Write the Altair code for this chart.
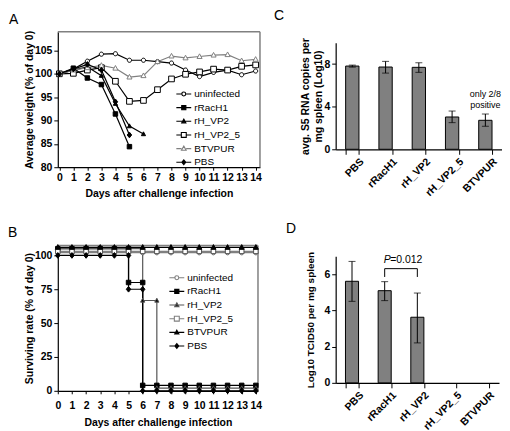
import altair as alt
import pandas as pd

FONT = "Liberation Sans"

series = ["uninfected", "rRacH1", "rH_VP2", "rH_VP2_5", "BTVPUR", "PBS"]
days = [0, 1, 2, 3, 4, 5, 6, 7, 8, 9, 10, 11, 12, 13, 14]

# ---------------- Panel A: average weight (% of day 0) ----------------
a_uninfected = [100, 101.0, 102.7, 104.2, 104.3, 102.9, 102.9, 102.6, 102.3, 100.8, 99.4, 100.3, 100.8, 99.8, 100.6]
a_rRacH1 = [100, 101.2, 99.1, 97.7, 91.4, 84.4]
a_rH_VP2 = [100, 100.8, 101.5, 99.6, 93.6, 88.8, 87.1]
a_rH_VP2_5 = [100, 100.1, 100.8, 101.3, 98.4, 94.1, 94.3, 96.6, 98.9, 99.9, 100.4, 101.0, 100.8, 101.6, 101.9]
a_BTVPUR = [100, 100.8, 101.3, 101.8, 101.2, 99.3, 99.6, 102.6, 103.8, 103.4, 103.7, 104.0, 104.1, 102.8, 103.1]
a_PBS = [100, 101.0, 102.0, 100.8, 94.0, 86.9]
a_yticks = [80, 85, 90, 95, 100, 105]

# ---------------- Panel B: surviving rate (step curves, offset as in original) ----------------
b_uninfected_days = [0, 1, 2, 3, 4, 5, 6, 7, 8, 9, 10, 11, 12, 13, 14]
b_uninfected = [102, 102, 102, 102, 102, 102, 102, 102, 102, 102, 102, 102, 102, 102, 102]
b_rRacH1_days = [0, 1, 2, 3, 4, 5, 5, 6, 6, 7, 8, 9, 10, 11, 12, 13, 14]
b_rRacH1 = [105, 105, 105, 105, 105, 105, 80, 80, 4, 4, 4, 4, 4, 4, 4, 4, 4]
b_rH_VP2_days = [0, 1, 2, 3, 4, 5, 6, 6, 7, 7, 8, 9, 10, 11, 12, 13, 14]
b_rH_VP2 = [105, 105, 105, 105, 105, 105, 105, 66.7, 66.7, 2, 2, 2, 2, 2, 2, 2, 2]
b_rH_VP2_5_days = [0, 1, 2, 3, 4, 5, 6, 7, 8, 9, 10, 11, 12, 13, 14]
b_rH_VP2_5 = [103, 103, 103, 103, 103, 103, 103, 103, 103, 103, 103, 103, 103, 103, 103]
b_BTVPUR_days = [0, 1, 2, 3, 4, 5, 6, 7, 8, 9, 10, 11, 12, 13, 14]
b_BTVPUR = [106, 106, 106, 106, 106, 106, 106, 106, 106, 106, 106, 106, 106, 106, 106]
b_PBS_days = [0, 1, 2, 3, 4, 5, 5, 6, 6, 7, 8, 9, 10, 11, 12, 13, 14]
b_PBS = [100, 100, 100, 100, 100, 100, 75, 75, 0, 0, 0, 0, 0, 0, 0, 0, 0]
b_yticks = [0, 25, 50, 75, 100]

# ---------------- Panel C / D: bars ----------------
groups = ["PBS", "rRacH1", "rH_VP2", "rH_VP2_5", "BTVPUR"]
c_mean = [7.81, 7.72, 7.69, 3.03, 2.72]
c_low = [7.71, 7.15, 7.22, 2.50, 2.16]
c_high = [7.90, 8.25, 8.12, 3.59, 3.31]
c_note_lines = ["only 2/8", "positive"]
c_note_y = [5.15, 4.18]
c_note_group = "BTVPUR"
c_yticks = [0, 2, 4, 6, 8, 10]

d_groups = ["PBS", "rRacH1", "rH_VP2"]
d_mean = [5.62, 5.10, 3.63]
d_low = [4.51, 4.55, 2.21]
d_high = [6.72, 5.60, 4.97]
d_bracket = ["rRacH1", "rH_VP2"]
d_bracket_top = 6.32
d_bracket_bottom = 5.86
d_p_y = 6.78
d_yticks = [0, 1, 2, 3, 4, 5, 6, 7]

# ---------------- styles ----------------
GRAY = "#808080"
P_CIRCLE = "M0.7,0A0.7,0.7,0,1,1,-0.7,0A0.7,0.7,0,1,1,0.7,0Z"
P_SQ = "M-0.75,-0.75H0.75V0.75H-0.75Z"
P_SQ_OPEN = "M-0.95,-0.95H0.95V0.95H-0.95Z"
P_TRI = "M0,-0.9L0.85,0.65H-0.85Z"
P_TRI_SMALL = "M0,-0.75L0.7,0.55H-0.7Z"
P_DIA = "M0,-0.95L0.75,0L0,0.95L-0.75,0Z"

L_LINE = "M-1.15,0H1.15"
L_CIRCLE = "M-1.15,0H-0.3M0.3,0H1.15M0.3,0A0.3,0.3,0,1,1,-0.3,0A0.3,0.3,0,1,1,0.3,0Z"
L_SQ = L_LINE + "M-0.32,-0.32H0.32V0.32H-0.32Z"
L_SQ_OPEN = "M-1.15,0H-0.38M0.38,0H1.15M-0.38,-0.38H0.38V0.38H-0.38Z"
L_TRI = L_LINE + "M0,-0.34L0.32,0.24H-0.32Z"
L_TRI_OPEN = "M-1.15,0H-0.36M0.36,0H1.15M0,-0.38L0.36,0.26H-0.36Z"
L_DIA = L_LINE + "M0,-0.36L0.3,0L0,0.36L-0.3,0Z"

A_STYLE = dict(
    line_colors=["black", "black", "black", "black", GRAY, "black"],
    mk_shapes=[P_CIRCLE, P_SQ, P_TRI_SMALL, P_SQ_OPEN, P_TRI, P_DIA],
    mk_fills=["white", "black", "black", "white", "white", "black"],
    mk_strokes=["black", "black", "black", "black", GRAY, "black"],
    lg_shapes=[L_CIRCLE, L_SQ, L_TRI, L_SQ_OPEN, L_TRI_OPEN, L_DIA],
    lg_fills=["white", "black", "black", "white", "white", "black"],
)
B_STYLE = dict(
    line_colors=[GRAY, "black", "#555555", GRAY, "black", "black"],
    mk_shapes=[P_CIRCLE, P_SQ, P_TRI_SMALL, P_SQ, P_TRI, P_DIA],
    mk_fills=["white", "black", "black", "white", "black", "black"],
    mk_strokes=["#555555", "black", "#555555", "#555555", "black", "black"],
    lg_shapes=[L_CIRCLE, L_SQ, L_TRI, L_SQ_OPEN, L_TRI, L_DIA],
    lg_fills=["white", "black", "black", "white", "black", "black"],
)


def long_df(xs_list, ys_list):
    rows = []
    for s, xs, ys in zip(series, xs_list, ys_list):
        for i, (x, y) in enumerate(zip(xs, ys)):
            rows.append({"series": s, "day": x, "value": y, "idx": i})
    return pd.DataFrame(rows)


def line_panel(df, xdom, ydom, yticks, ytitle, style, width, height, letter,
               letter_dx, letter_offset, leg_x, leg_y, xlab_pad):
    xs = alt.Scale(domain=xdom, nice=False, zero=False)
    ys = alt.Scale(domain=ydom, nice=False, zero=False)
    x_axis = alt.Axis(values=days, format="d", title="Days after challenge infection",
                      labelPadding=xlab_pad, tickSize=3, labelFlush=False,
                      labelOverlap=False, titlePadding=6)
    y_axis = alt.Axis(values=yticks, title=ytitle, tickSize=4, labelPadding=2, titlePadding=0,
                      labelOverlap=False)
    x_none = alt.X("day:Q", scale=xs, axis=None)
    y_none = alt.Y("value:Q", scale=ys, axis=None)
    base = alt.Chart(df)
    layers = []
    # gray frame on the top and right edges, drawn from the domain ends; carries the axes
    frame = pd.DataFrame({"x": [xdom[0], xdom[1]], "x2": [xdom[1], xdom[1]],
                          "y": [ydom[1], ydom[0]], "y2": [ydom[1], ydom[1]]})
    layers.append(alt.Chart(frame).mark_rule(color=GRAY, strokeWidth=1.5).encode(
        x=alt.X("x:Q", scale=xs, axis=x_axis), x2="x2:Q",
        y=alt.Y("y:Q", scale=ys, axis=y_axis), y2="y2:Q"))
    stroke_scale = alt.Scale(domain=series, range=style["line_colors"])
    legend = alt.Legend(title=None, orient="none", legendX=leg_x, legendY=leg_y,
                        labelFont=FONT, labelFontSize=10, labelColor="black",
                        labelFontWeight="normal", symbolSize=169, symbolStrokeWidth=1.1,
                        rowPadding=0.7, labelOffset=3, padding=0)
    # legend layer: draws no marks, only provides the legend
    leg = base.transform_filter("false").mark_point(
        filled=True, opacity=1, size=169, strokeWidth=1.1).encode(
        x=x_none, y=y_none,
        shape=alt.Shape("series:N", scale=alt.Scale(domain=series, range=style["lg_shapes"]), legend=legend),
        fill=alt.Fill("series:N", scale=alt.Scale(domain=series, range=style["lg_fills"]), legend=legend),
        stroke=alt.Stroke("series:N", scale=stroke_scale, legend=legend))
    layers.append(leg)
    for i, s in enumerate(series):
        sub = base.transform_filter(alt.datum.series == s)
        layers.append(sub.mark_line(stroke=style["line_colors"][i], strokeWidth=1.2).encode(
            x=x_none, y=y_none, order="idx:Q"))
    for i, s in enumerate(series):
        sub = base.transform_filter(alt.datum.series == s)
        layers.append(sub.mark_point(
            shape=style["mk_shapes"][i], filled=True, fill=style["mk_fills"][i],
            stroke=style["mk_strokes"][i], strokeWidth=1, size=36, opacity=1
        ).encode(x=x_none, y=y_none))
    return alt.layer(*layers).resolve_axis(x="independent", y="independent").properties(
        width=width, height=height,
        title=alt.TitleParams(text=letter, dx=letter_dx, offset=letter_offset))


def bar_panel(cats, mean, low, high, ydom, yticks, ytitle, width, height, letter,
              letter_dx, letter_offset, title_pad, title_size, extra=None):
    df = pd.DataFrame({"group": cats, "mean": mean, "low": low, "high": high})
    x = alt.X("group:N", sort=groups,
              scale=alt.Scale(domain=groups, paddingInner=0.6, paddingOuter=0.3),
              axis=alt.Axis(title=None, labelAngle=-45, tickBand="extent", tickSize=5,
                            labelPadding=2, labelOffset=6))
    y = alt.Y("mean:Q", scale=alt.Scale(domain=ydom, nice=False),
              axis=alt.Axis(values=yticks, title=ytitle, tickSize=4, labelPadding=2,
                            titlePadding=title_pad, titleLineHeight=13, titleFontSize=title_size))
    base = alt.Chart(df)
    bars = base.mark_bar(fill=GRAY, stroke="black", strokeWidth=1).encode(x=x, y=y)
    err = base.mark_rule(color="black", strokeWidth=1).encode(x=x, y="low:Q", y2="high:Q")
    cap_lo = base.mark_tick(color="black", thickness=1, size=7).encode(x=x, y="low:Q")
    cap_hi = base.mark_tick(color="black", thickness=1, size=7).encode(x=x, y="high:Q")
    layers = [bars, err, cap_lo, cap_hi]
    if extra:
        layers += extra()
    return alt.layer(*layers).properties(
        width=width, height=height,
        title=alt.TitleParams(text=letter, dx=letter_dx, offset=letter_offset))


def c_extra():
    note = pd.DataFrame({"group": [c_note_group, c_note_group], "y": c_note_y, "t": c_note_lines})
    return [alt.Chart(note).mark_text(fontSize=9, baseline="middle", font=FONT, color="black").encode(
        x=alt.X("group:N", sort=groups, scale=alt.Scale(domain=groups)),
        y=alt.Y("y:Q"), text="t:N")]


def d_extra():
    br = pd.DataFrame({"g1": [d_bracket[0]], "g2": [d_bracket[1]], "top": [d_bracket_top]})
    legs = pd.DataFrame({"group": d_bracket, "top": [d_bracket_top, d_bracket_top],
                         "bottom": [d_bracket_bottom, d_bracket_bottom]})
    ptxt = pd.DataFrame({"group": [d_bracket[0]], "y": [d_p_y]})
    xs = alt.X("group:N", sort=groups, scale=alt.Scale(domain=groups))
    hrule = alt.Chart(br).mark_rule(color="black", strokeWidth=1).encode(
        x=alt.X("g1:N", sort=groups, scale=alt.Scale(domain=groups)), x2="g2:N", y="top:Q")
    vrule = alt.Chart(legs).mark_rule(color="black", strokeWidth=1).encode(
        x=xs, y="top:Q", y2="bottom:Q")
    p1 = alt.Chart(ptxt).mark_text(text="P", fontStyle="italic", fontSize=10.5, font=FONT,
                                   align="left", baseline="middle", dx=-1, color="black").encode(
        x=xs, y="y:Q")
    p2 = alt.Chart(ptxt).mark_text(text="=0.012", fontSize=10.5, font=FONT,
                                   align="left", baseline="middle", dx=5.5, color="black").encode(
        x=xs, y="y:Q")
    return [hrule, vrule, p1, p2]


dfA = long_df([days, days[:6], days[:7], days, days, days[:6]],
              [a_uninfected, a_rRacH1, a_rH_VP2, a_rH_VP2_5, a_BTVPUR, a_PBS])
dfB = long_df([b_uninfected_days, b_rRacH1_days, b_rH_VP2_days, b_rH_VP2_5_days, b_BTVPUR_days, b_PBS_days],
              [b_uninfected, b_rRacH1, b_rH_VP2, b_rH_VP2_5, b_BTVPUR, b_PBS])

panelA = line_panel(dfA, [-0.11, 14.31], [80, 109], a_yticks, "Average weight (% of day 0)",
                    A_STYLE, 203, 136, "A", -49, 3, 119, 55, 2)
panelB = line_panel(dfB, [0, 14.15], [0, 107.4], b_yticks, "Surviving rate (% of day 0)",
                    B_STYLE, 201, 146, "B", -50, 3, 112, 25, 7)
panelC = bar_panel(groups, c_mean, c_low, c_high, [0, 10], c_yticks,
                   ["avg. S5 RNA copies per", "mg spleen (Log10)"], 167, 107, "C", -62, 14,
                   0, 10.5, c_extra)
panelD = bar_panel(d_groups, d_mean, d_low, d_high, [0, 7], d_yticks,
                   "Log10 TCID50 per mg spleen", 164, 127, "D", -50, 15, 8, 10, d_extra)

# invisible spacer that lowers the right column (panel C starts lower than panel A)
spacer_df = pd.DataFrame({"v": [0]})
spacer = alt.Chart(spacer_df).mark_point(opacity=0).encode(
    x=alt.X("v:Q", axis=None), y=alt.Y("v:Q", axis=None)).properties(width=1, height=11)

left = alt.vconcat(panelA, panelB, spacing=78.5, bounds="flush").resolve_scale(
    shape="independent", fill="independent", stroke="independent")
right_inner = alt.vconcat(panelC, panelD, spacing=107.5, bounds="flush")
right = alt.vconcat(spacer, right_inner, spacing=0, bounds="flush")
chart = alt.hconcat(left, right, spacing=12).properties(padding=0).configure(
    font=FONT
).configure_axis(
    labelFont=FONT, titleFont=FONT, labelFontSize=10.5, titleFontSize=10.5,
    labelFontWeight="bold", titleFontWeight="bold", labelColor="black", titleColor="black",
    domainColor="black", tickColor="black", domainWidth=1.2, tickWidth=1, grid=False
).configure_view(stroke=None).configure_title(
    font=FONT, fontSize=14, fontWeight="normal", anchor="start", frame="group", color="black"
)

chart.save("out.html", embed_options={"renderer": "svg", "actions": False})
